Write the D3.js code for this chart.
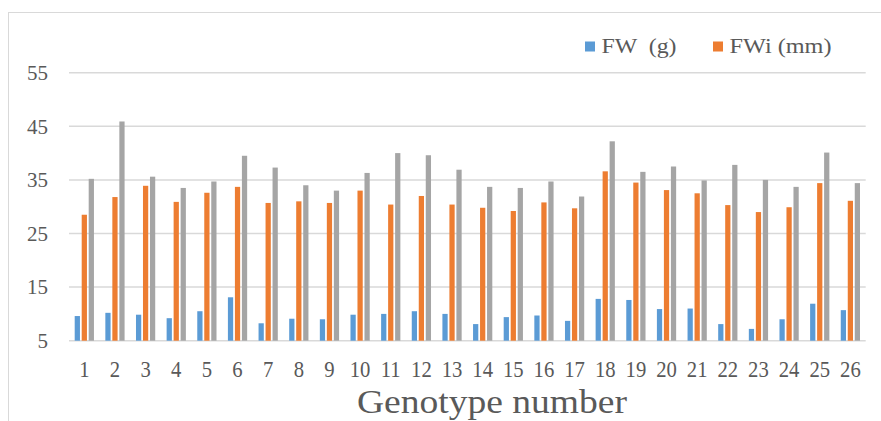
<!DOCTYPE html>
<html>
<head>
<meta charset="utf-8">
<title>Genotype chart</title>
<script src="https://d3js.org/d3.v7.min.js"></script>
<style>
body { margin: 0; background: #fff; }
svg text { font-family: "Liberation Serif", "Times New Roman", serif; fill: #595959; }
</style>
</head>
<body>
<div id="chart"></div>
<script>
// data
var genotypes = d3.range(1, 27).map(String);
var fw   = [9.6, 10.2, 9.85, 9.2, 10.5, 13.1, 8.25, 9.1, 9.0, 9.85, 10.0, 10.5, 10.0, 8.1, 9.4, 9.7, 8.7, 12.8, 12.6, 10.9, 11.0, 8.1, 7.2, 9.0, 11.9, 10.7];
var fwi  = [28.5, 31.8, 33.9, 30.9, 32.6, 33.7, 30.7, 31.0, 30.7, 33.0, 30.4, 32.0, 30.4, 29.8, 29.2, 30.8, 29.7, 36.6, 34.5, 33.1, 32.5, 30.3, 29.0, 29.9, 34.4, 31.1];
var thrd = [35.2, 45.9, 35.6, 33.5, 34.7, 39.5, 37.3, 34.0, 33.0, 36.3, 40.0, 39.6, 36.9, 33.7, 33.5, 34.7, 31.9, 42.2, 36.5, 37.5, 34.9, 37.8, 35.0, 33.7, 40.1, 34.4];
var seriesColors = ["#5b9bd5", "#ed7d31", "#a5a5a5"];
var legendNames = ["FW  (g)", "FWi (mm)"];
var yTicks = [5, 15, 25, 35, 45, 55];

var W = 881, H = 421;
var svg = d3.select("#chart").append("svg")
	.attr("width", W).attr("height", H);

// chart frame
svg.append("rect")
	.attr("x", 8.5).attr("y", 12.5)
	.attr("width", W).attr("height", H)
	.attr("fill", "none").attr("stroke", "#d9d9d9").attr("stroke-width", 1);

var plotL = 69, plotR = 865.7, plotT = 72.7, plotB = 340.7;

var y = d3.scaleLinear().domain([5, 55]).range([plotB, plotT]);
var x0 = d3.scaleBand().domain(genotypes).range([plotL, plotR]).padding(0);
var x1 = d3.scaleBand().domain([0, 1, 2])
	.range([5.7, x0.bandwidth() - 5.7]).paddingInner(0.25);

// gridlines
svg.append("g").selectAll("line")
	.data(yTicks)
	.enter().append("line")
	.attr("x1", plotL).attr("x2", plotR)
	.attr("y1", function(d) { return y(d); })
	.attr("y2", function(d) { return y(d); })
	.attr("stroke", "#d9d9d9").attr("stroke-width", 1.5);

// y labels
svg.append("g").selectAll("text")
	.data(yTicks)
	.enter().append("text")
	.attr("x", 48).attr("y", function(d) { return y(d); })
	.attr("dy", "0.35em")
	.attr("text-anchor", "end")
	.style("font-size", "21px")
	.text(function(d) { return d; });

var rows = genotypes.map(function(g, i) { return [fw[i], fwi[i], thrd[i]]; });

var groups = svg.append("g").selectAll("g")
	.data(rows)
	.enter().append("g")
	.attr("transform", function(d, i) { return "translate(" + x0(genotypes[i]) + ",0)"; });

groups.selectAll("rect")
	.data(function(d) { return d; })
	.enter().append("rect")
	.attr("x", function(d, j) { return x1(j); })
	.attr("width", x1.bandwidth())
	.attr("y", function(d) { return y(d); })
	.attr("height", function(d) { return y(5) - y(d); })
	.attr("fill", function(d, j) { return seriesColors[j]; });

// x labels (slightly condensed like the original)
svg.append("g").selectAll("text")
	.data(genotypes)
	.enter().append("text")
	.attr("transform", function(d) {
		return "translate(" + (x0(d) + x0.bandwidth() / 2) + ",377) scale(0.88,1)";
	})
	.attr("text-anchor", "middle")
	.style("font-size", "23.5px")
	.text(function(d) { return d; });

svg.append("text")
	.attr("x", 357).attr("y", 413)
	.attr("textLength", 270)
	.attr("lengthAdjust", "spacingAndGlyphs")
	.style("font-size", "34px")
	.text("Genotype number");

// legend
var legX = [585, 713];
var legLen = [75, 102];
var leg = svg.append("g").selectAll("g")
	.data(legendNames)
	.enter().append("g")
	.attr("transform", function(d, i) { return "translate(" + legX[i] + ",41.5)"; });
leg.append("rect")
	.attr("width", 10).attr("height", 10)
	.attr("fill", function(d, i) { return seriesColors[i]; });
leg.append("text")
	.attr("x", 16.5).attr("y", 11)
	.attr("xml:space", "preserve")
	.attr("textLength", function(d, i) { return legLen[i]; })
	.attr("lengthAdjust", "spacingAndGlyphs")
	.style("font-size", "22px")
	.style("white-space", "pre")
	.text(function(d) { return d; });
</script>
</body>
</html>
